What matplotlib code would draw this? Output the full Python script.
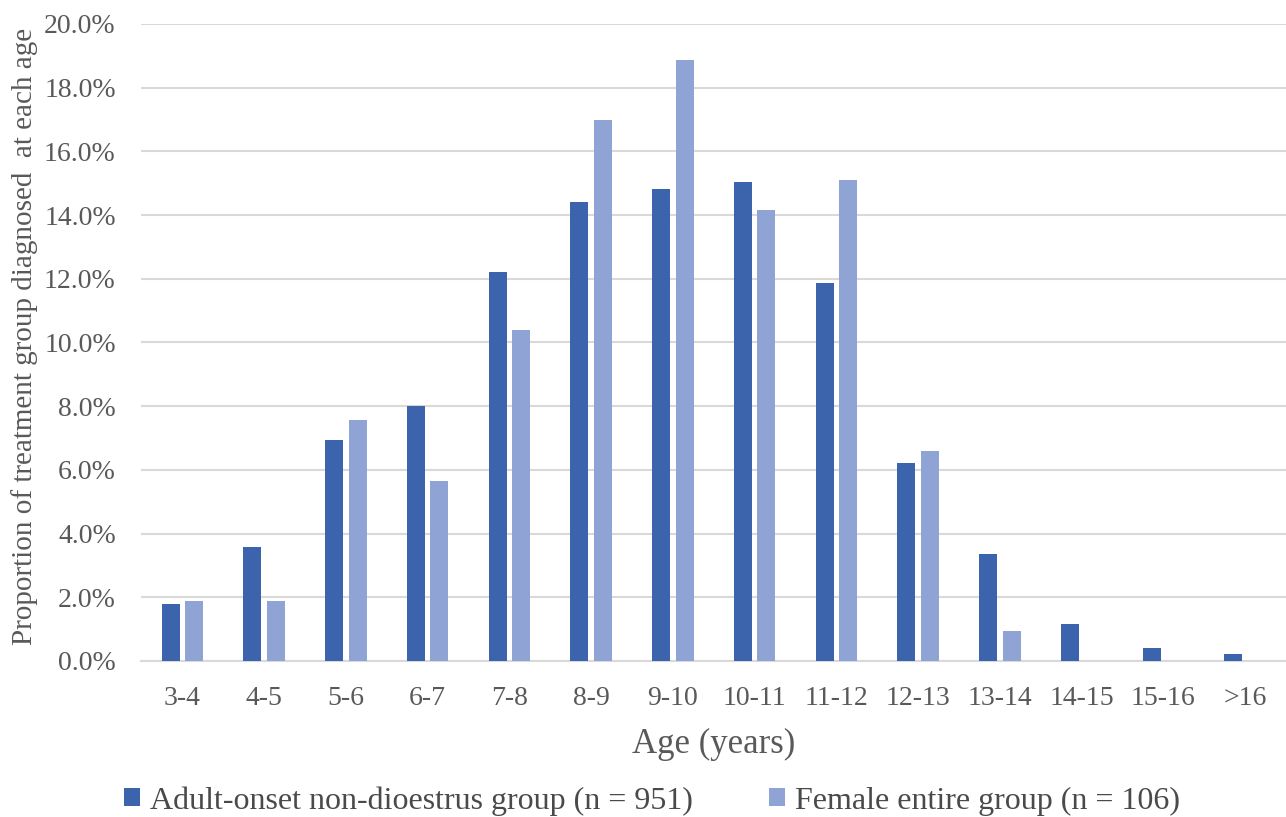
import numpy as np
import matplotlib.pyplot as plt
from matplotlib.ticker import FuncFormatter

ages = ["3-4", "4-5", "5-6", "6-7", "7-8", "8-9", "9-10", "10-11",
        "11-12", "12-13", "13-14", "14-15", "15-16", ">16"]
# proportion diagnosed at each age (%)
adult_onset = [1.79, 3.58, 6.94, 7.99, 12.20, 14.41, 14.83, 15.04,
               11.88, 6.20, 3.36, 1.16, 0.42, 0.21]
female_entire = [1.89, 1.89, 7.55, 5.66, 10.38, 16.98, 18.87, 14.15,
                 15.09, 6.60, 0.94, 0.0, 0.0, 0.0]

plt.rcParams["font.family"] = ["Liberation Serif", "DejaVu Serif"]
txt = "#595959"

fig = plt.figure(figsize=(12.86, 8.17), dpi=100)
ax = fig.add_axes([0.110, 0.191, 0.890, 0.7797])

x = np.arange(len(ages))
w = 0.22
ax.bar(x - 0.143, adult_onset, w, color="#3b64ac",
       label="Adult-onset non-dioestrus group (n = 951)", zorder=3)
ax.bar(x + 0.143, female_entire, w, color="#8fa3d4",
       label="Female entire group (n = 106)", zorder=3)

ax.set_xlim(-0.5, len(ages) - 0.5)
ax.set_ylim(0, 20)
ax.set_yticks(np.arange(0, 20.1, 2))
ax.yaxis.set_major_formatter(FuncFormatter(lambda v, p: f"{v:.1f}%"))
ax.set_xticks(x)
ax.set_xticklabels(ages)
ax.grid(axis="y", color="#d9d9d9", linewidth=1.5, zorder=0)
for s in ["top", "right", "left"]:
    ax.spines[s].set_visible(False)
ax.spines["bottom"].set_color("#d9d9d9")
ax.spines["bottom"].set_linewidth(1.5)
ax.tick_params(length=0, labelsize=20, colors=txt)
ax.tick_params(axis="x", pad=18)
ax.tick_params(axis="y", pad=18.5)

ax.set_xlabel("Age (years)", fontsize=25, color=txt, labelpad=12)
ax.set_ylabel("Proportion of treatment group diagnosed  at each age",
              fontsize=21, color=txt)
ax.yaxis.set_label_coords(-0.0905, 0.51)

ax.legend(loc="center", bbox_to_anchor=(0.507, 1 - 801 / 817), bbox_transform=fig.transFigure,
          ncol=2, frameon=False, fontsize=23, labelcolor="#4a4a4a",
          handlelength=0.5, handleheight=0.48, handletextpad=0.3, columnspacing=2.4)

fig.savefig("out.png", dpi=100)
